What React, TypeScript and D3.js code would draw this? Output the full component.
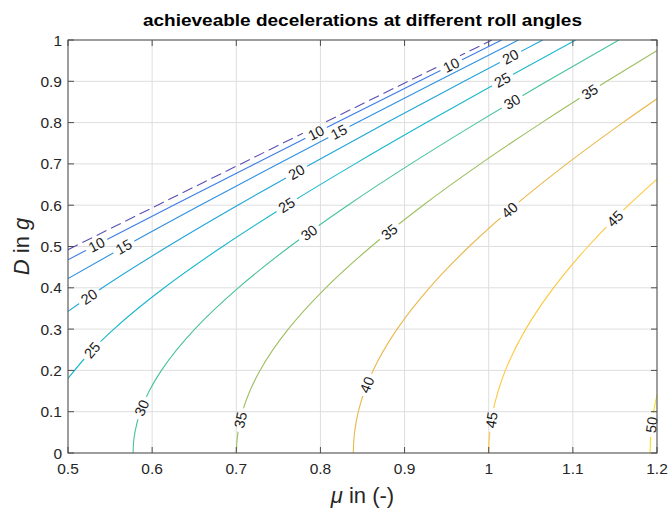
import React from "react";
import * as d3 from "d3";

const title = "achieveable decelerations at different roll angles";
const levels = [5, 10, 15, 20, 25, 30, 35, 40, 45, 50];
const levelColors = ["#5a4fb4", "#3a7ce8", "#2e90e2", "#1ea5d8", "#17b7cb", "#47c19e", "#9cbf5e", "#e8b84a", "#fcc73a", "#f4e11e"];

// contour points (mu, D) for each level
const contourMu: number[][] = [
  [0.5, 0.60634, 0.70545, 0.80477, 0.90424, 1.00382],
  [0.5, 0.53018, 0.62537, 0.72186, 0.8192, 0.91711, 1.01543],
  [0.5, 0.56727, 0.65711, 0.74953, 0.84368, 0.93904, 1.03528],
  [0.5, 0.54081, 0.61845, 0.70177, 0.78897, 0.87891, 0.97081, 1.06417],
  [0.5, 0.52909, 0.55447, 0.61437, 0.6837, 0.75989, 0.8411, 0.92598, 1.01363, 1.10338],
  [0.57735, 0.5777, 0.57951, 0.58595, 0.59652, 0.61101, 0.65064, 0.70238, 0.76376, 0.83267, 0.90738, 0.98658, 1.06927, 1.1547],
  [0.70021, 0.70049, 0.70199, 0.70731, 0.7161, 0.72821, 0.76177, 0.80641, 0.8604, 0.92211, 0.9901, 1.06315, 1.14031, 1.2],
  [0.8391, 0.83934, 0.84059, 0.84504, 0.8524, 0.8626, 0.89112, 0.92956, 0.97677, 1.03155, 1.09275, 1.15934, 1.2],
  [1.0, 1.0002, 1.00125, 1.00499, 1.01119, 1.0198, 1.04403, 1.07703, 1.11803, 1.16619, 1.2],
  [1.19175, 1.1928, 1.19594, 1.2],
];
const contourD: number[][] = [
  [0.49229, 0.6, 0.7, 0.8, 0.9, 1.0],
  [0.46788, 0.5, 0.6, 0.7, 0.8, 0.9, 1.0],
  [0.42214, 0.5, 0.6, 0.7, 0.8, 0.9, 1.0],
  [0.34282, 0.4, 0.5, 0.6, 0.7, 0.8, 0.9, 1.0],
  [0.18044, 0.25, 0.3, 0.4, 0.5, 0.6, 0.7, 0.8, 0.9, 1.0],
  [0, 0.02, 0.05, 0.1, 0.15, 0.2, 0.3, 0.4, 0.5, 0.6, 0.7, 0.8, 0.9, 1.0],
  [0, 0.02, 0.05, 0.1, 0.15, 0.2, 0.3, 0.4, 0.5, 0.6, 0.7, 0.8, 0.9, 0.97453],
  [0, 0.02, 0.05, 0.1, 0.15, 0.2, 0.3, 0.4, 0.5, 0.6, 0.7, 0.8, 0.85785],
  [0, 0.02, 0.05, 0.1, 0.15, 0.2, 0.3, 0.4, 0.5, 0.6, 0.66333],
  [0, 0.05, 0.1, 0.14044],
];

// inline contour labels: level and D position along the curve
const labelLevel = [10, 10, 10, 15, 15, 20, 20, 20, 25, 25, 25, 30, 30, 30, 35, 35, 35, 40, 40, 45, 45, 50];
const labelD = [0.504, 0.775, 0.939, 0.499, 0.777, 0.378, 0.68, 0.959, 0.249, 0.6, 0.903, 0.109, 0.533, 0.85, 0.08, 0.535, 0.874, 0.165, 0.588, 0.08, 0.567, 0.068];

const xTicks = [0.5, 0.6, 0.7, 0.8, 0.9, 1.0, 1.1, 1.2];
const yTicks = [0, 0.1, 0.2, 0.3, 0.4, 0.5, 0.6, 0.7, 0.8, 0.9, 1.0];

const W = 670, H = 509;
const L = 68, R = 657, T = 40, B = 453;
const FONT = "'Liberation Sans', Arial, Helvetica, sans-serif";

export default function App() {
  const x = d3.scaleLinear().domain([0.5, 1.2]).range([L, R]);
  const y = d3.scaleLinear().domain([0, 1]).range([B, T]);
  const fmt = d3.format("~g");

  const line = d3
    .line<[number, number]>()
    .x((p) => x(p[0]))
    .y((p) => y(p[1]))
    .curve(d3.curveMonotoneY);

  const labels = labelLevel.map((lev, i) => {
    const k = levels.indexOf(lev);
    const mus = contourMu[k];
    const ds = contourD[k];
    const dv = labelD[i];
    let j = 0;
    while (j < ds.length - 2 && ds[j + 1] < dv) j++;
    const f = (dv - ds[j]) / (ds[j + 1] - ds[j]);
    const mu = mus[j] + f * (mus[j + 1] - mus[j]);
    const px = x(mu), py = y(dv);
    const j2 = Math.min(j + 1, ds.length - 1);
    const dx = x(mus[j2]) - x(mus[j]);
    const dy = y(ds[j2]) - y(ds[j]);
    let ang = (Math.atan2(dy, dx) * 180) / Math.PI;
    if (ang > 90) ang -= 180;
    if (ang < -90) ang += 180;
    return { lev, px, py, ang, text: String(lev) };
  });

  return (
    <svg width={W} height={H} style={{ position: "absolute", left: 0, top: 0, background: "#fff" }}>
      <defs>
        <clipPath id="plotclip">
          <rect x={L} y={T} width={R - L} height={B - T} />
        </clipPath>
        <mask id="labelmask" maskUnits="userSpaceOnUse" x={0} y={0} width={W} height={H}>
          <rect x={0} y={0} width={W} height={H} fill="white" />
          {labels.map((lb, i) => (
            <rect
              key={i}
              x={-12}
              y={-7}
              width={24}
              height={14}
              fill="black"
              transform={`translate(${lb.px},${lb.py}) rotate(${lb.ang})`}
            />
          ))}
        </mask>
      </defs>
      <rect x={0} y={0} width={W} height={H} fill="#fff" />
      <g stroke="#dedede" strokeWidth={1}>
        {xTicks.map((t) => (
          <line key={"gx" + t} x1={x(t)} x2={x(t)} y1={T} y2={B} />
        ))}
        {yTicks.map((t) => (
          <line key={"gy" + t} x1={L} x2={R} y1={y(t)} y2={y(t)} />
        ))}
      </g>
      <g clipPath="url(#plotclip)">
        <g mask="url(#labelmask)">
          {levels.map((lev, k) => (
            <path
              key={lev}
              d={line(contourMu[k].map((m, i) => [m, contourD[k][i]] as [number, number])) || ""}
              fill="none"
              stroke={levelColors[k]}
              strokeWidth={1.1}
              strokeDasharray={lev === 5 ? "11,5" : undefined}
            />
          ))}
        </g>
      </g>
      <g fontFamily={FONT} fontSize={14.5} fill="#1a1a1a">
        {labels.map((lb, i) => (
          <text
            key={i}
            textAnchor="middle"
            dominantBaseline="central"
            transform={`translate(${lb.px},${lb.py}) rotate(${lb.ang})`}
          >
            {lb.text}
          </text>
        ))}
      </g>
      <rect x={L} y={T} width={R - L} height={B - T} fill="none" stroke="#4d4d4d" strokeWidth={1} />
      <g stroke="#4d4d4d" strokeWidth={1}>
        {xTicks.map((t) => (
          <g key={"tx" + t}>
            <line x1={x(t)} x2={x(t)} y1={B} y2={B - 6} />
            <line x1={x(t)} x2={x(t)} y1={T} y2={T + 6} />
          </g>
        ))}
        {yTicks.map((t) => (
          <g key={"ty" + t}>
            <line x1={L} x2={L + 6} y1={y(t)} y2={y(t)} />
            <line x1={R} x2={R - 6} y1={y(t)} y2={y(t)} />
          </g>
        ))}
      </g>
      <g fontFamily={FONT} fontSize={15.5} fill="#262626">
        {xTicks.map((t) => (
          <text key={"lx" + t} x={x(t)} y={B + 21} textAnchor="middle">
            {fmt(t)}
          </text>
        ))}
        {yTicks.map((t) => (
          <text key={"ly" + t} x={L - 6} y={y(t)} textAnchor="end" dominantBaseline="central">
            {fmt(t)}
          </text>
        ))}
      </g>
      <text x={(L + R) / 2} y={26} textAnchor="middle" fontFamily={FONT} fontSize={17} fontWeight="bold" fill="#000" textLength={439} lengthAdjust="spacingAndGlyphs">
        {title}
      </text>
      <text x={(L + R) / 2} y={503} textAnchor="middle" fontFamily={FONT} fontSize={22} fill="#262626">
        <tspan fontStyle="italic">μ</tspan> in (-)
      </text>
      <text
        transform={`translate(29,${(T + B) / 2}) rotate(-90)`}
        textAnchor="middle"
        fontFamily={FONT}
        fontSize={22}
        fill="#262626"
      >
        <tspan fontStyle="italic">D</tspan> in <tspan fontStyle="italic">g</tspan>
      </text>
    </svg>
  );
}
